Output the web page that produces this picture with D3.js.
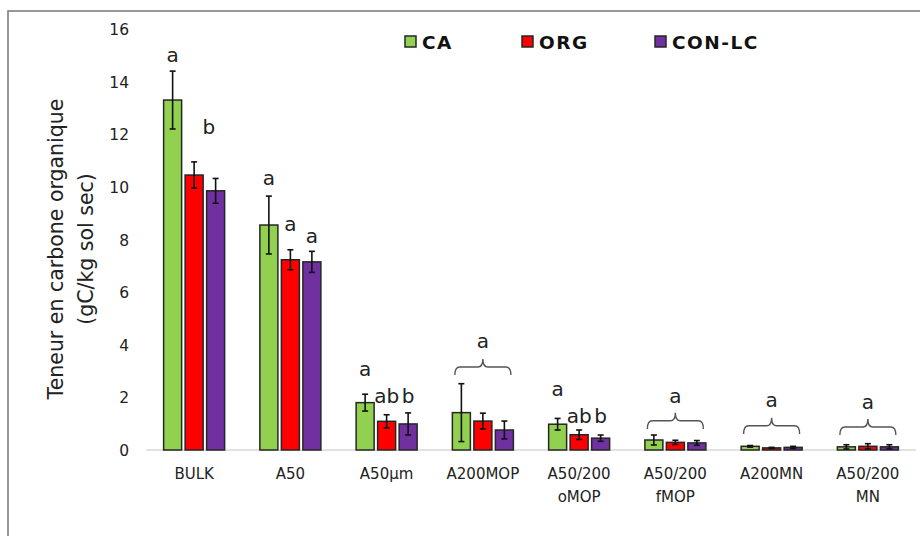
<!DOCTYPE html>
<html><head><meta charset="utf-8">
<script src="https://cdn.jsdelivr.net/npm/d3@7"></script>
<style>body{margin:0;background:#fff}svg{display:block}</style>
</head><body>
<svg id="c" width="920" height="536"></svg>
<script>
const categories = ["BULK","A50","A50µm","A200MOP","A50/200\noMOP","A50/200\nfMOP","A200MN","A50/200\nMN"];
const seriesNames = ["CA","ORG","CON-LC"];
const seriesColors = ["#92d050","#ff0000","#7030a0"];
const valCA  = [13.3, 8.55, 1.80, 1.42, 0.98, 0.38, 0.14, 0.12];
const valORG = [10.45, 7.23, 1.09, 1.10, 0.58, 0.29, 0.08, 0.14];
const valCON = [9.85, 7.15, 0.99, 0.76, 0.45, 0.27, 0.10, 0.12];
const errCA  = [1.1, 1.1, 0.32, 1.1, 0.22, 0.19, 0.03, 0.08];
const errORG = [0.5, 0.38, 0.25, 0.30, 0.18, 0.08, 0.02, 0.10];
const errCON = [0.47, 0.40, 0.42, 0.34, 0.12, 0.09, 0.04, 0.08];
const yTicks = [0,2,4,6,8,10,12,14,16];
// significance letters: category, slot (series index), value (data units), text
const letters = [
  ["BULK",0,14.75,"a"],["BULK",1.68,12.0,"b"],
  ["A50",0,10.08,"a"],["A50",1,8.33,"a"],["A50",2,7.87,"a"],
  ["A50µm",0,2.81,"a"],["A50µm",1,1.79,"ab"],["A50µm",2,1.79,"b"],
  ["A50/200\noMOP",0,2.05,"a"],["A50/200\noMOP",1,1.03,"ab"],["A50/200\noMOP",2,1.03,"b"]
];
// grouped letters with brace: category, letter value, tip value, end value
const braces = [
  ["A200MOP",3.88,3.46,2.85],
  ["A50/200\nfMOP",1.79,1.42,0.80],
  ["A200MN",1.63,1.23,0.61],
  ["A50/200\nMN",1.56,1.18,0.57]
];

const vals = [valCA,valORG,valCON], errs=[errCA,errORG,errCON];
const svg = d3.select("#c");
const font = "'DejaVu Sans', sans-serif";

// frame
svg.append("rect").attr("x",8).attr("y",11).attr("width",960).attr("height",600)
  .attr("fill","none").attr("stroke","#7f7f7f").attr("stroke-width",1.6);

const x = d3.scaleBand().domain(categories).range([146,916]);
const y = d3.scaleLinear().domain([0,16]).range([450,29]);
const barW = 18, off = 21.5;
const bx = (c,s) => x(c) + x.bandwidth()/2 + (s-1)*off;

// y axis labels
const yAxis = d3.axisLeft(y).tickValues(yTicks).tickSize(0).tickPadding(0);
const ga = svg.append("g").attr("transform","translate(129,0)").call(yAxis);
ga.select(".domain").remove();
ga.selectAll("text").attr("font-family",font).attr("font-size",15.5).attr("fill","#222").attr("dy","0.36em");

// baseline
svg.append("line").attr("x1",146).attr("x2",916).attr("y1",y(0)).attr("y2",y(0))
  .attr("stroke","#d9d9d9").attr("stroke-width",1.5);

// bars
vals.forEach((arr,s)=>{
  const g = svg.append("g");
  g.selectAll("rect").data(categories).join("rect")
    .attr("x",c=>bx(c,s)-barW/2).attr("width",barW)
    .attr("y",(c,i)=>y(arr[i])).attr("height",(c,i)=>y(0)-y(arr[i]))
    .attr("fill",seriesColors[s]).attr("stroke","#262626").attr("stroke-width",1.5);
});
// error bars
vals.forEach((arr,s)=>{
  const g = svg.append("g").attr("stroke","#111").attr("stroke-width",1.6);
  categories.forEach((c,i)=>{
    const cx = bx(c,s), hi=y(arr[i]+errs[s][i]), lo=y(Math.max(0,arr[i]-errs[s][i]));
    g.append("line").attr("x1",cx).attr("x2",cx).attr("y1",hi).attr("y2",lo);
    g.append("line").attr("x1",cx-3).attr("x2",cx+3).attr("y1",hi).attr("y2",hi);
    g.append("line").attr("x1",cx-3).attr("x2",cx+3).attr("y1",lo).attr("y2",lo);
  });
});

// letters
letters.forEach(([c,s,v,t])=>{
  svg.append("text").attr("x",bx(c,s)).attr("y",y(v)).attr("text-anchor","middle")
    .attr("font-family",font).attr("font-size",20).attr("fill","#222").text(t);
});
// braces
braces.forEach(([c,vl,vt,ve])=>{
  const cx = x(c)+x.bandwidth()/2, x1=cx-28, x2=cx+28;
  const yt=y(vt), ye=y(ve), ym=(yt+ye)/2;
  const r=5;
  const p = `M${x1},${ye} Q${x1},${ym} ${x1+r},${ym} L${cx-r},${ym} Q${cx},${ym} ${cx},${yt} Q${cx},${ym} ${cx+r},${ym} L${x2-r},${ym} Q${x2},${ym} ${x2},${ye}`;
  svg.append("path").attr("d",p).attr("fill","none").attr("stroke","#555").attr("stroke-width",1.4);
  svg.append("text").attr("x",cx).attr("y",y(vl)).attr("text-anchor","middle")
    .attr("font-family",font).attr("font-size",20).attr("fill","#222").text("a");
});

// x labels
categories.forEach(c=>{
  const lines = c.split("\n");
  const t = svg.append("text").attr("x",x(c)+x.bandwidth()/2).attr("y",479)
    .attr("text-anchor","middle").attr("font-family",font).attr("font-size",15).attr("fill","#222");
  lines.forEach((l,i)=>t.append("tspan").attr("x",x(c)+x.bandwidth()/2).attr("dy",i?23:0).text(l));
});

// y title
const yt = svg.append("text").attr("transform","translate(0,249) rotate(-90)")
  .attr("text-anchor","middle").attr("font-family",font).attr("font-size",20.5).attr("fill","#222");
yt.append("tspan").attr("x",0).attr("y",63).text("Teneur en carbone organique");
yt.append("tspan").attr("x",0).attr("y",93).text("(gC/kg sol sec)");

// legend
const legX = [405,522,655];
seriesNames.forEach((n,i)=>{
  svg.append("rect").attr("x",legX[i]).attr("y",36).attr("width",11).attr("height",11)
    .attr("fill",seriesColors[i]).attr("stroke","#262626").attr("stroke-width",1.5);
  svg.append("text").attr("x",legX[i]+17).attr("y",48.5).attr("font-family",font)
    .attr("font-weight","bold").attr("font-size",18.5).attr("letter-spacing",1.5).attr("fill","#111").text(n);
});
</script>
</body></html>
